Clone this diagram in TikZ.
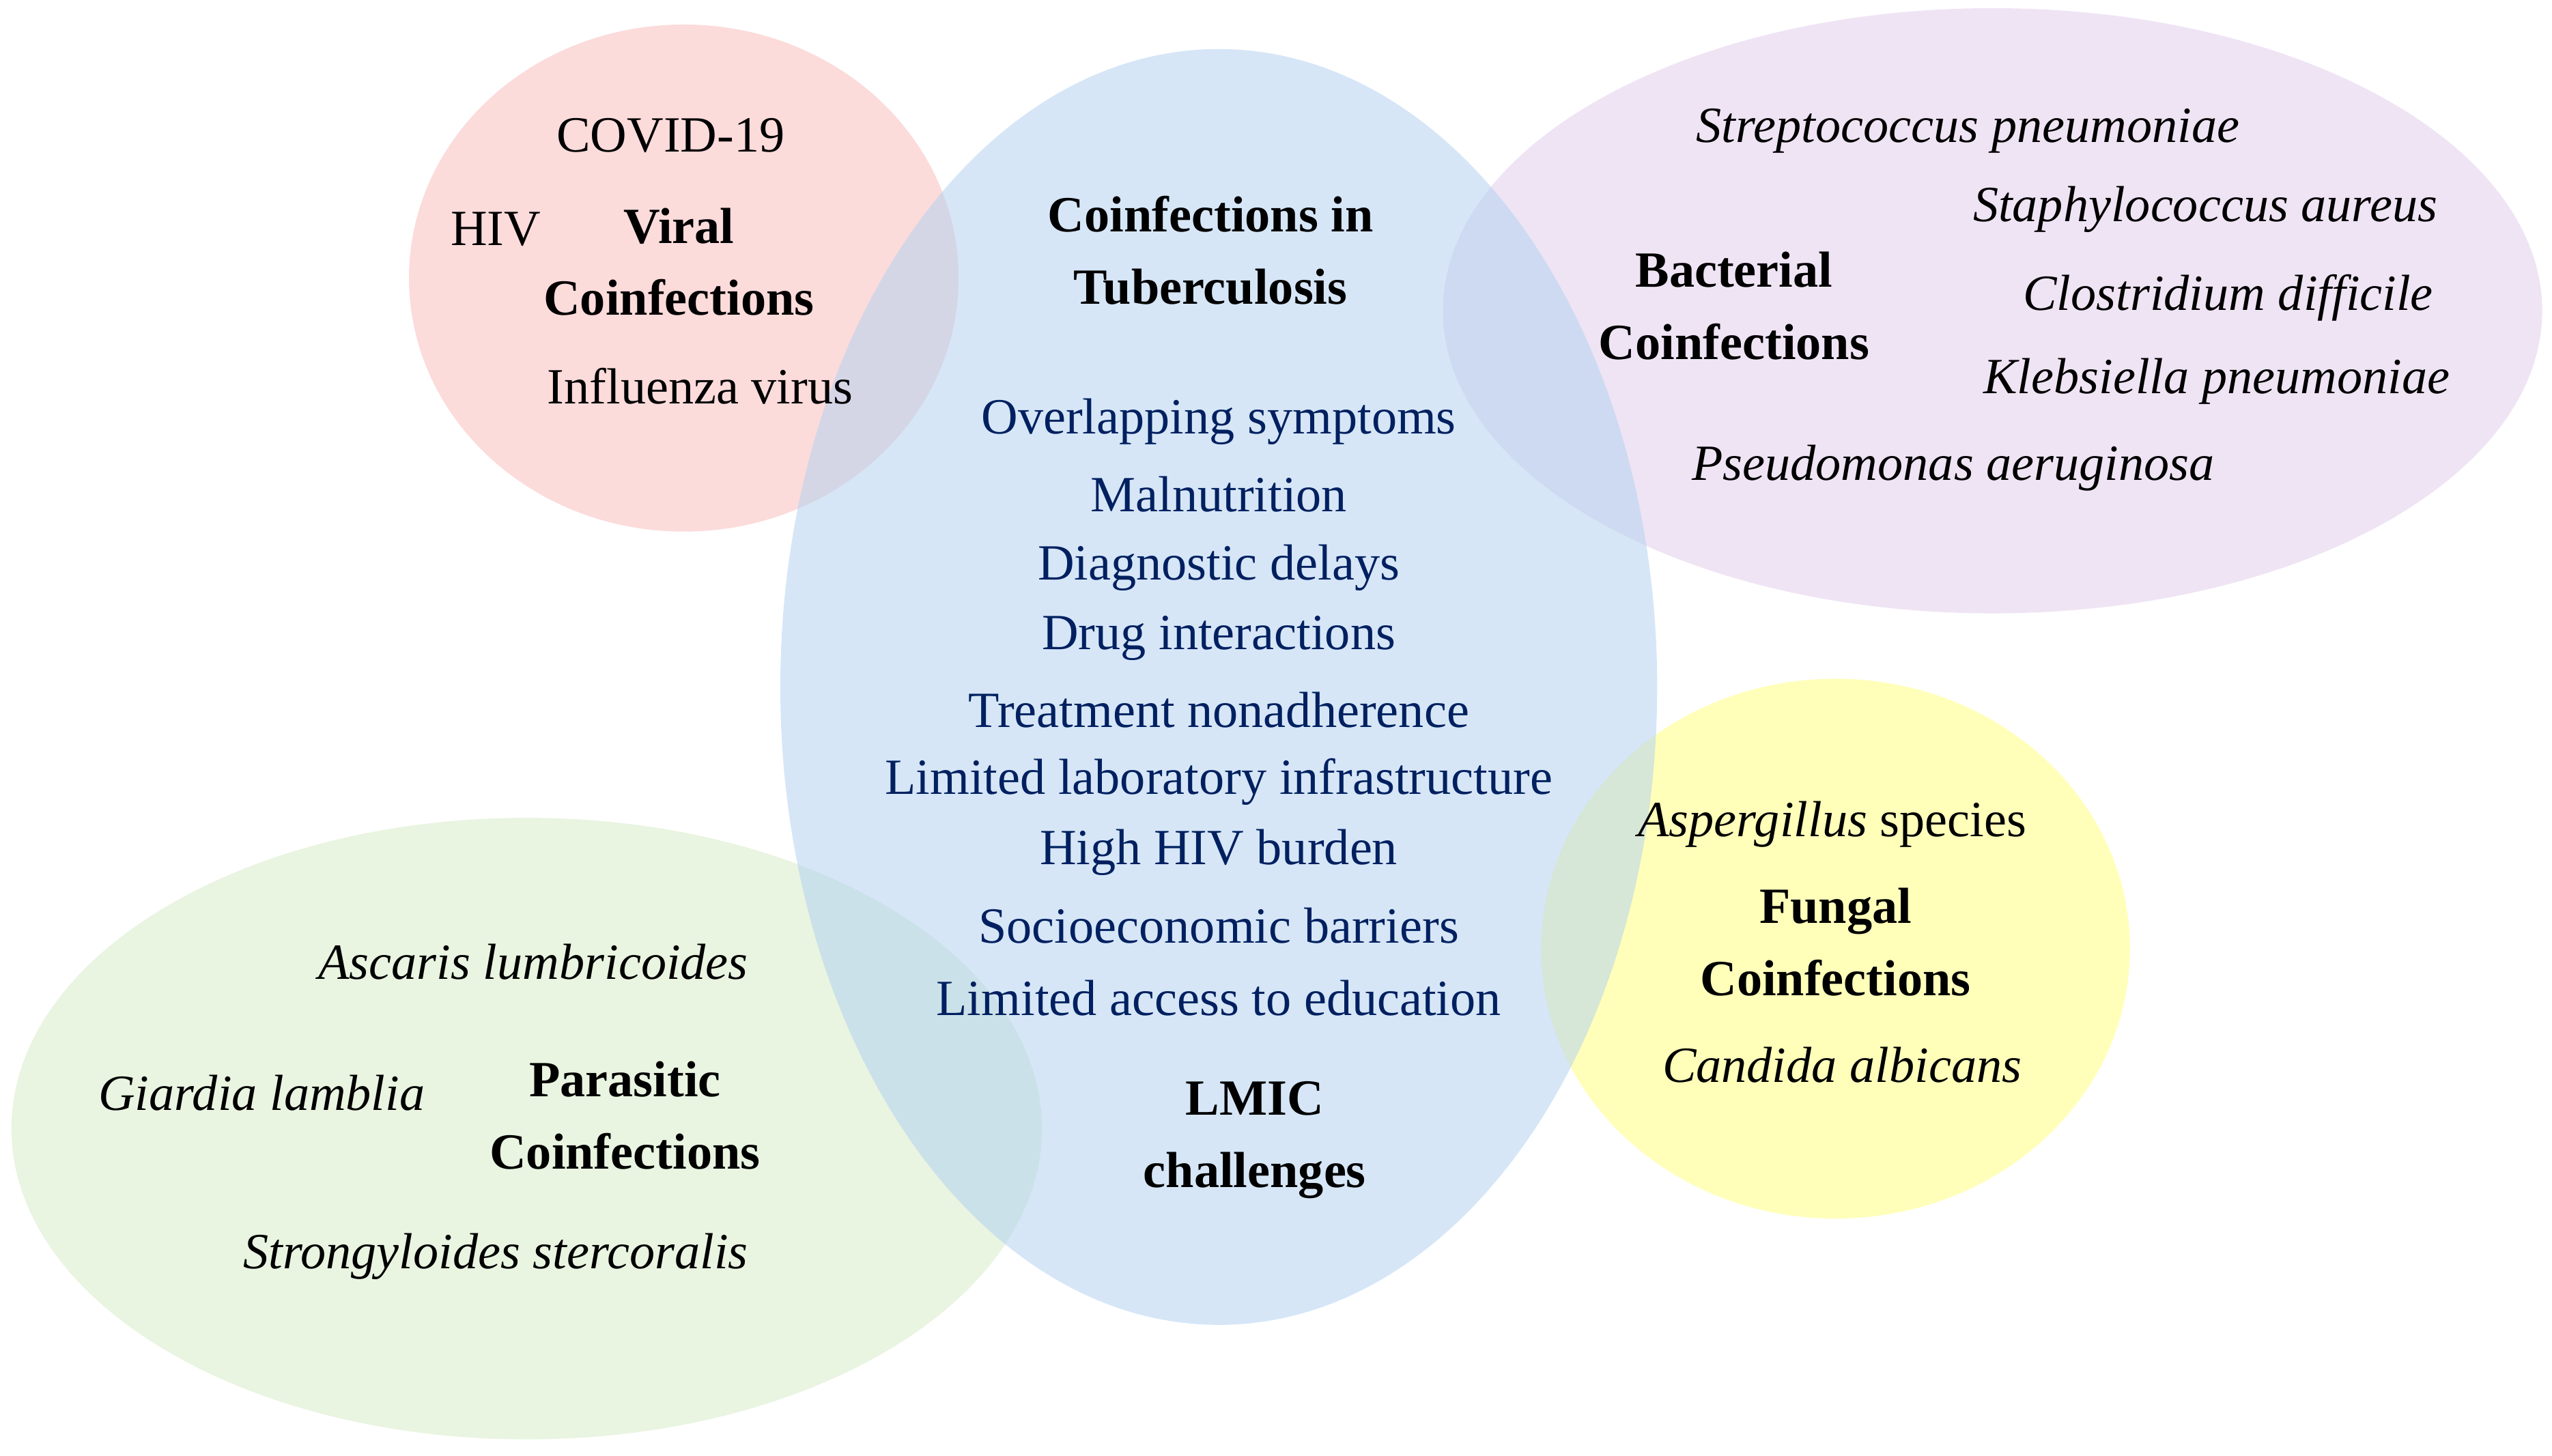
\documentclass[tikz,border=0pt]{standalone}
\usepackage{fontspec}
\setmainfont{Liberation Serif}
\begin{document}
\begin{tikzpicture}[x=1pt,y=-1pt,
  blob/.style={fill opacity=0.55,draw=none},
  t/.style={font=\fontsize{31}{36}\selectfont,inner sep=0pt},
  h/.style={t,font=\fontsize{31}{44}\selectfont\bfseries,align=center},
  b/.style={t,text={rgb,255:red,0;green,32;blue,96}}]
\useasboundingbox (0,0) rectangle (1560,890);
\fill[blob,fill={rgb,255:red,250;green,190;blue,190}] (418,170) ellipse (168 and 155);
\fill[blob,fill={rgb,255:red,225;green,205;blue,235}] (1218,190) ellipse (336 and 185);
\fill[blob,fill={rgb,255:red,215;green,235;blue,200}] (322,690) ellipse (315 and 190);
\fill[blob,fill={rgb,255:red,255;green,255;blue,130}] (1122,580) ellipse (180 and 165);
\fill[blob,fill={rgb,255:red,180;green,210;blue,240}] (745,420) ellipse (268 and 390);
% viral
\node[t] (c19) at (410,83) {COVID-19};
\node[t] (hiv) at (303,140) {HIV};
\node[h] (vir) at (415,160) {Viral\\Coinfections};
\node[t] (flu) at (428,236) {Influenza virus};
% center
\node[h] (tb) at (740,153) {Coinfections in\\Tuberculosis};
\node[b] (b1) at (745,258) {Overlapping symptoms};
\node[b] (b2) at (745,302) {Malnutrition};
\node[b] (b3) at (745,347) {Diagnostic delays};
\node[b] (b4) at (745,390) {Drug interactions};
\node[b] (b5) at (745,434) {Treatment nonadherence};
\node[b] (b6) at (745,478) {Limited laboratory infrastructure};
\node[b] (b7) at (745,521) {High HIV burden};
\node[b] (b8) at (745,566) {Socioeconomic barriers};
\node[b] (b9) at (745,610) {Limited access to education};
\node[h] (lmic) at (767,697) {LMIC\\challenges};
% bacterial
\node[t,font=\fontsize{31}{36}\selectfont\itshape] (s1) at (1203,80) {Streptococcus pneumoniae};
\node[t,font=\fontsize{31}{36}\selectfont\itshape] (s2) at (1348,128) {Staphylococcus aureus};
\node[h] (bac) at (1060,187) {Bacterial\\Coinfections};
\node[t,font=\fontsize{31}{36}\selectfont\itshape] (s3) at (1362,182) {Clostridium difficile};
\node[t,font=\fontsize{31}{36}\selectfont\itshape] (s4) at (1355,233) {Klebsiella pneumoniae};
\node[t,font=\fontsize{31}{36}\selectfont\itshape] (s5) at (1194,286) {Pseudomonas aeruginosa};
% fungal
\node[t] (f1) at (1120,504) {\textit{Aspergillus} species};
\node[h] (fun) at (1122,576) {Fungal\\Coinfections};
\node[t,font=\fontsize{31}{36}\selectfont\itshape] (f2) at (1126,651) {Candida albicans};
% parasitic
\node[t,font=\fontsize{31}{36}\selectfont\itshape] (p1) at (326,588) {Ascaris lumbricoides};
\node[t,font=\fontsize{31}{36}\selectfont\itshape] (p2) at (160,668) {Giardia lamblia};
\node[h] (par) at (382,682) {Parasitic\\Coinfections};
\node[t,font=\fontsize{31}{36}\selectfont\itshape] (p3) at (303,768) {Strongyloides stercoralis};
\end{tikzpicture}
\end{document}
